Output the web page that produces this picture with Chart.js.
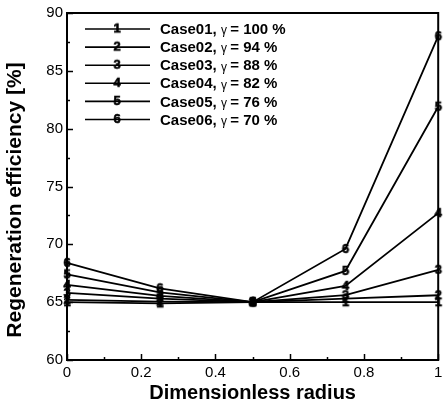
<!DOCTYPE html>
<html>
<head>
<meta charset="utf-8">
<script src="https://cdn.jsdelivr.net/npm/chart.js@4.4.0/dist/chart.umd.min.js"></script>
<style>
	html, body { margin: 0; padding: 0; background: #fff; }
	#wrap { width: 446px; height: 405px; position: relative; }
</style>
</head>
<body>
<div id="wrap"><canvas id="regenChart"></canvas></div>
<script>
const RADIUS = [0, 0.25, 0.5, 0.75, 1];
const CASE_LABELS = ['Case01', 'Case02', 'Case03', 'Case04', 'Case05', 'Case06'];
const GAMMA_LABELS = ['100 %', '94 %', '88 %', '82 %', '76 %', '70 %'];
const CASE01 = [65.0, 64.9, 65.0, 65.0, 65.0];
const CASE02 = [65.2, 65.05, 65.0, 65.3, 65.6];
const CASE03 = [65.8, 65.3, 65.0, 65.6, 67.8];
const CASE04 = [66.5, 65.55, 65.0, 66.4, 72.7];
const CASE05 = [67.4, 65.85, 65.0, 67.7, 81.9];
const CASE06 = [68.4, 66.2, 65.0, 69.6, 88.0];
const SERIES = [CASE01, CASE02, CASE03, CASE04, CASE05, CASE06];

const Y_TITLE = 'Regeneration efficiency [%]';
const FONT = "'Liberation Sans', Arial, Helvetica, sans-serif";

// numbered marker, like the tecplot symbols
function makeMarker(txt) {
	const c = document.createElement('canvas');
	c.width = 12;
	c.height = 14;
	const ctx = c.getContext('2d');
	ctx.fillStyle = '#000';
	ctx.font = 'bold 13px ' + FONT;
	ctx.textAlign = 'center';
	ctx.textBaseline = 'middle';
	ctx.fillText(txt, 6, 7.5);
	ctx.lineWidth = 0.6;
	ctx.strokeStyle = '#000';
	ctx.strokeText(txt, 6, 7.5);
	return c;
}

const MARKERS = CASE_LABELS.map((l, i) => makeMarker(String(i + 1)));

const datasets = SERIES.map((vals, i) => ({
	label: CASE_LABELS[i],
	data: vals.map((v, j) => ({ x: RADIUS[j], y: v })),
	borderColor: '#000',
	borderWidth: 1.8,
	pointStyle: MARKERS[i],
	pointRadius: 6,
	clip: false,
}));

const frameAndTicks = {
	id: 'frameAndTicks',
	afterDraw(chart) {
		const { ctx, chartArea: a, scales } = chart;
		const xs = scales.x;
		const ys = scales.y;
		ctx.save();
		ctx.strokeStyle = '#000';
		ctx.lineWidth = 1.5;
		// inward ticks on left and bottom
		for (let v = 60; v <= 90; v += 2.5) {
			const y = Math.round(ys.getPixelForValue(v)) + 0.5;
			const len = v % 5 === 0 ? 6 : 3;
			ctx.beginPath();
			ctx.moveTo(a.left, y);
			ctx.lineTo(a.left + len, y);
			ctx.stroke();
		}
		for (let k = 0; k <= 10; k++) {
			const x = Math.round(xs.getPixelForValue(k / 10)) + 0.5;
			const len = k % 2 === 0 ? 6 : 3;
			ctx.beginPath();
			ctx.moveTo(x, a.bottom);
			ctx.lineTo(x, a.bottom - len);
			ctx.stroke();
		}
		ctx.lineWidth = 2;
		ctx.strokeRect(a.left, a.top, a.right - a.left, a.bottom - a.top);

		// y title, sits a bit below the plot centre in the original
		ctx.save();
		ctx.translate(15, 200);
		ctx.rotate(-Math.PI / 2);
		ctx.fillStyle = '#000';
		ctx.font = 'bold 21px ' + FONT;
		ctx.textAlign = 'center';
		ctx.textBaseline = 'middle';
		ctx.fillText(Y_TITLE, 0, 0);
		ctx.restore();

		// legend
		const top = 29;
		const step = 18.1;
		CASE_LABELS.forEach((lab, i) => {
			const y = top + i * step;
			ctx.lineWidth = 1.6;
			ctx.beginPath();
			ctx.moveTo(85, y);
			ctx.lineTo(150, y);
			ctx.stroke();
			ctx.drawImage(MARKERS[i], 117 - 6, y - 7.5);
			ctx.fillStyle = '#000';
			ctx.textBaseline = 'middle';
			ctx.textAlign = 'left';
			ctx.font = 'bold 15px ' + FONT;
			let x = 160;
			ctx.fillText(lab + ',', x, y + 1);
			x += ctx.measureText(lab + ', ').width;
			ctx.font = '12px ' + FONT;
			ctx.fillText('\u03b3', x, y + 2);
			x += ctx.measureText('\u03b3 ').width;
			ctx.font = 'bold 15px ' + FONT;
			ctx.fillText('= ' + GAMMA_LABELS[i], x, y + 1);
		});
		ctx.restore();
	},
};

const chart = new Chart(document.querySelector('#regenChart'), {
	type: 'line',
	data: { datasets },
	options: {
		responsive: true,
		maintainAspectRatio: false,
		animation: false,
		layout: { padding: { top: 13, right: 1, left: 0, bottom: 0 } },
		scales: {
			x: {
				type: 'linear',
				min: 0,
				max: 1,
				grid: { display: false, drawTicks: false },
				border: { display: false },
				ticks: {
					stepSize: 0.2,
					padding: 4,
					maxRotation: 0,
					color: '#000',
					font: { family: FONT, size: 15 },
					callback: v => String(Math.round(v * 10) / 10),
				},
				title: {
					display: true,
					text: 'Dimensionless radius',
					color: '#000',
					font: { family: FONT, size: 20, weight: 'bold' },
					padding: { top: 0, bottom: 0 },
				},
				afterFit(scale) {
					scale.height = 45;
					scale.paddingLeft = 0;
					scale.paddingRight = 0;
				},
			},
			y: {
				min: 60,
				max: 90,
				grid: { display: false, drawTicks: false },
				border: { display: false },
				ticks: {
					stepSize: 5,
					padding: 4,
					color: '#000',
					font: { family: FONT, size: 15 },
				},
				afterFit(scale) {
					scale.width = 67;
					scale.paddingTop = 0;
					scale.paddingBottom = 0;
				},
			},
		},
		plugins: {
			legend: { display: false },
			tooltip: { enabled: false },
		},
	},
	plugins: [frameAndTicks],
});
</script>
</body>
</html>
